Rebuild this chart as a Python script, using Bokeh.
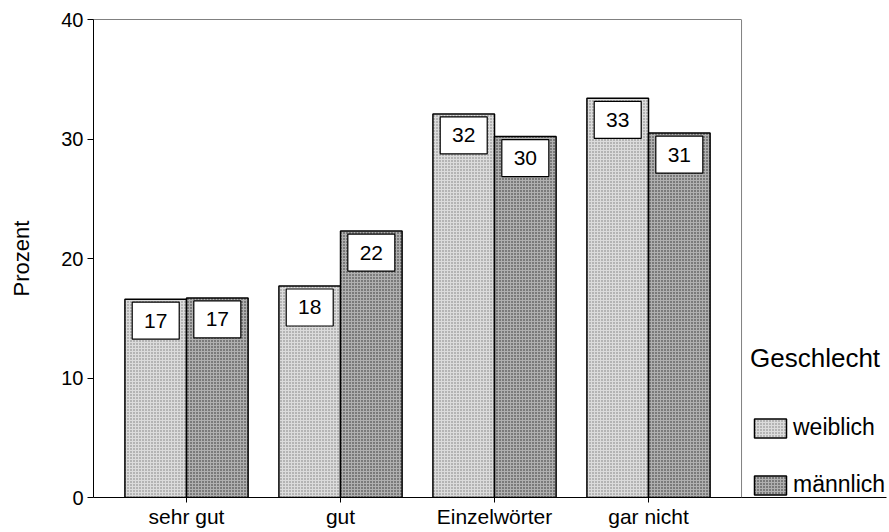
import numpy as np
from bokeh.plotting import figure
from bokeh.models import (Range1d, Legend, LegendItem, FixedTicker, ColumnDataSource,
                          LinearAxis, Span)
from bokeh.core.properties import value
from bokeh.embed import file_html
from bokeh.resources import INLINE

categories = ["sehr gut", "gut", "Einzelwörter", "gar nicht"]
weiblich = [16.6, 17.7, 32.1, 33.4]
maennlich = [16.7, 22.3, 30.2, 30.5]
weiblich_lbl = ["17", "18", "32", "33"]
maennlich_lbl = ["17", "22", "30", "31"]
y_ticks = [0, 10, 20, 30, 40]

FONT = "Liberation Sans"
centers = np.arange(len(categories)) + 0.5

X0, X1 = -0.104, 4.104          # visible plot box in category units
PX_PER_UNIT = 154.0
LEFT, RIGHT_EDGE = 93, 886
X_END = X0 + (RIGHT_EDGE - LEFT) / PX_PER_UNIT

p = figure(width=889, height=532, output_backend="svg", toolbar_location=None,
           x_range=Range1d(X0, X_END), y_range=Range1d(0, 40),
           min_border_left=LEFT, min_border_right=889 - RIGHT_EDGE,
           min_border_top=19, min_border_bottom=35)
p.background_fill_color = "white"
p.border_fill_color = "white"
p.outline_line_color = None
p.xgrid.visible = False
p.ygrid.visible = False

src_w = ColumnDataSource(dict(x=centers - 0.2, top=weiblich, lbl=weiblich_lbl,
                              ly=np.array(weiblich) - 1.8))
src_m = ColumnDataSource(dict(x=centers + 0.2, top=maennlich, lbl=maennlich_lbl,
                              ly=np.array(maennlich) - 1.8))

rw = p.vbar(x="x", top="top", bottom=0, width=0.4, source=src_w,
            fill_color="#dcdcdc", line_color="black", line_width=1.5,
            hatch_pattern="dot", hatch_color="#333333", hatch_scale=3, hatch_weight=1, hatch_alpha=0.6)
rm = p.vbar(x="x", top="top", bottom=0, width=0.4, source=src_m,
            fill_color="#b0b0b0", line_color="black", line_width=1.5,
            hatch_pattern="dot", hatch_color="#111111", hatch_scale=3, hatch_weight=1, hatch_alpha=0.85)

for src in (src_w, src_m):
    p.rect(x="x", y="ly", width=47, height=37, width_units="screen", height_units="screen",
           source=src, fill_color="white", line_color="black", line_width=1.2)
    p.text(x="x", y="ly", text="lbl", source=src, text_align="center", text_baseline="middle",
           text_font=value(FONT), text_font_size="21px", text_color="black")

# frame: gray top and right border of the plot box
top_axis = LinearAxis(bounds=(X0, X1), major_tick_line_color=None, minor_tick_line_color=None,
                      major_label_text_font_size="0px", axis_line_color="#808080")
top_axis.ticker = FixedTicker(ticks=[])
p.add_layout(top_axis, "above")
p.add_layout(Span(location=X1, dimension="height", line_color="#808080", line_width=1))

# axes
p.xaxis[0].bounds = (X0, X1)
p.below[0].ticker = FixedTicker(ticks=list(centers))
p.below[0].major_label_overrides = {float(c): categories[i] for i, c in enumerate(centers)}
p.below[0].major_label_text_font = FONT
p.below[0].major_label_text_font_size = "21px"
p.below[0].major_label_text_color = "black"
p.below[0].major_label_standoff = 2
p.below[0].major_tick_out = 5
p.below[0].major_tick_in = 0
p.below[0].minor_tick_line_color = None
p.below[0].axis_line_color = "black"
p.below[0].major_tick_line_color = "black"

p.yaxis.ticker = FixedTicker(ticks=y_ticks)
p.yaxis.major_label_text_font = FONT
p.yaxis.major_label_text_font_size = "20px"
p.yaxis.major_label_text_color = "black"
p.yaxis.major_label_standoff = 4
p.yaxis.major_tick_out = 6
p.yaxis.major_tick_in = 0
p.yaxis.minor_tick_line_color = None
p.yaxis.axis_line_color = "black"
p.yaxis.major_tick_line_color = "black"
p.yaxis.axis_label = "Prozent"
p.yaxis.axis_label_text_font = FONT
p.yaxis.axis_label_text_font_size = "22px"
p.yaxis.axis_label_text_font_style = "normal"
p.yaxis.axis_label_text_color = "black"
p.yaxis.axis_label_standoff = 24

legend = Legend(items=[LegendItem(label="weiblich", renderers=[rw]),
                       LegendItem(label="männlich", renderers=[rm])],
                location=(657, -1), title="Geschlecht",
                title_text_font=FONT, title_text_font_size="26px", title_text_font_style="normal",
                title_text_color="black", title_standoff=40,
                label_text_font=FONT, label_text_font_size="23px", label_text_color="black",
                glyph_width=40, glyph_height=24, label_height=25, spacing=30,
                label_standoff=3, padding=0, margin=0,
                border_line_color=None, background_fill_color=None)
p.add_layout(legend, "center")

open("out.html", "w").write(file_html(p, INLINE))
